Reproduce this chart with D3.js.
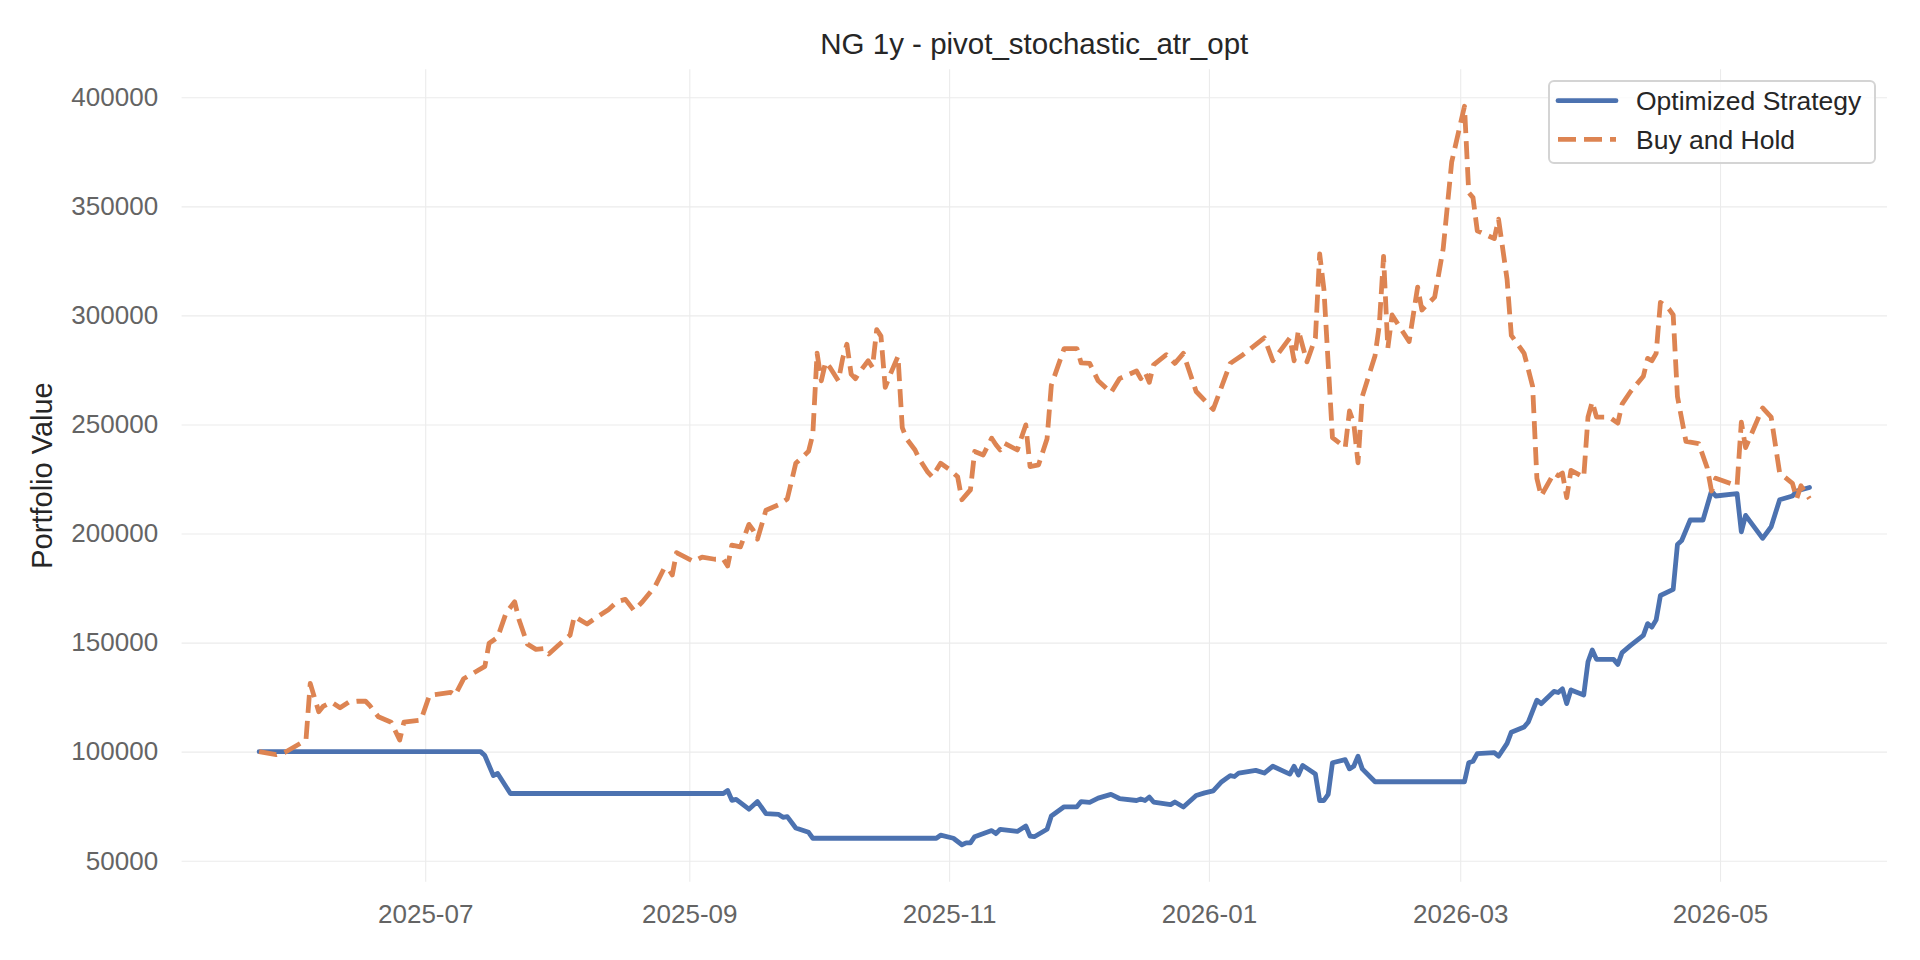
<!DOCTYPE html>
<html>
<head>
  <meta charset="utf-8">
  <title>NG 1y - pivot_stochastic_atr_opt</title>
  <style>
    body { margin: 0; background: #ffffff; }
    svg { font-family: "Liberation Sans", Arial, sans-serif; }
    .grid line { stroke: #ebebeb; stroke-width: 1.1; }
  </style>
</head>
<body>
  <script src="https://d3js.org/d3.v7.min.js"></script>
  <script>
    // chart data
    var seriesNames = ["Optimized Strategy", "Buy and Hold"];

    var stratDates = [
      "2025-05-23","2025-07-14","2025-07-15","2025-07-17","2025-07-18","2025-07-21","2025-09-09","2025-09-10",
      "2025-09-11","2025-09-12","2025-09-15","2025-09-17","2025-09-19","2025-09-22","2025-09-23","2025-09-24",
      "2025-09-26","2025-09-29","2025-09-30","2025-10-29","2025-10-30","2025-11-02","2025-11-04","2025-11-05",
      "2025-11-06","2025-11-07","2025-11-11","2025-11-12","2025-11-13","2025-11-17","2025-11-19","2025-11-20",
      "2025-11-21","2025-11-24","2025-11-25","2025-11-28","2025-12-01","2025-12-02","2025-12-04","2025-12-06",
      "2025-12-09","2025-12-11","2025-12-15","2025-12-16","2025-12-17","2025-12-18","2025-12-19","2025-12-23",
      "2025-12-24","2025-12-26","2025-12-29","2025-12-31","2026-01-02","2026-01-04","2026-01-06","2026-01-07",
      "2026-01-08","2026-01-12","2026-01-14","2026-01-16","2026-01-20","2026-01-21","2026-01-22","2026-01-23",
      "2026-01-26","2026-01-27","2026-01-28","2026-01-29","2026-01-30","2026-02-02","2026-02-03","2026-02-04",
      "2026-02-05","2026-02-06","2026-02-09","2026-03-02","2026-03-03","2026-03-04","2026-03-05","2026-03-09",
      "2026-03-10","2026-03-12","2026-03-13","2026-03-16","2026-03-17","2026-03-19","2026-03-20","2026-03-23",
      "2026-03-24","2026-03-25","2026-03-26","2026-03-27","2026-03-30","2026-03-31","2026-04-01","2026-04-02",
      "2026-04-06","2026-04-07","2026-04-08","2026-04-10","2026-04-13","2026-04-14","2026-04-15","2026-04-16",
      "2026-04-17","2026-04-20","2026-04-21","2026-04-22","2026-04-24","2026-04-27","2026-04-29","2026-04-30",
      "2026-05-05","2026-05-06","2026-05-07","2026-05-11","2026-05-13","2026-05-15","2026-05-18","2026-05-19",
      "2026-05-22"
    ];
    var stratValues = [
      100000,100000,98200,89000,90000,80800,80800,82200,
      77700,78100,73600,77100,71600,71200,69900,70200,
      65000,63000,60300,60300,61700,60300,57300,58200,
      58200,61000,63800,62400,64400,63400,65900,61300,
      61000,64400,70500,74700,74700,77100,76700,78700,
      80400,78500,77600,78300,77600,79200,76900,75700,
      76900,74600,79900,81100,82000,86200,89000,88600,
      90200,91400,90200,93300,89700,93300,89300,93700,
      89700,77600,77600,80400,94900,96300,92100,93300,
      97900,92100,86200,86200,94900,95600,99100,99500,
      97900,103800,108900,111300,113600,123600,122000,127600,
      127100,128800,122000,128300,126000,141200,146600,142300,
      142300,140000,145400,148700,153300,158700,157100,160400,
      171600,174400,195000,196800,206200,206200,219500,217200,
      218300,200800,208300,197800,203100,215500,217200,219500,
      221100
    ];

    var bhDates = [
      "2025-05-23","2025-05-27","2025-05-29","2025-06-03","2025-06-04","2025-06-06","2025-06-07","2025-06-09",
      "2025-06-11","2025-06-13","2025-06-15","2025-06-17","2025-06-18","2025-06-20","2025-06-23","2025-06-25",
      "2025-06-26","2025-06-30","2025-07-02","2025-07-07","2025-07-08","2025-07-10","2025-07-15","2025-07-16",
      "2025-07-18","2025-07-20","2025-07-22","2025-07-23","2025-07-25","2025-07-27","2025-07-29","2025-07-30",
      "2025-08-01","2025-08-04","2025-08-05","2025-08-08","2025-08-10","2025-08-13","2025-08-15","2025-08-17",
      "2025-08-19","2025-08-21","2025-08-24","2025-08-26","2025-08-27","2025-08-28","2025-08-29","2025-09-02",
      "2025-09-04","2025-09-07","2025-09-09","2025-09-10","2025-09-11","2025-09-13","2025-09-15","2025-09-16",
      "2025-09-17","2025-09-19","2025-09-22","2025-09-24","2025-09-26","2025-09-29","2025-09-30","2025-10-01",
      "2025-10-02","2025-10-03","2025-10-04","2025-10-06","2025-10-07","2025-10-08","2025-10-09","2025-10-10",
      "2025-10-11","2025-10-13","2025-10-14","2025-10-15","2025-10-16","2025-10-17","2025-10-18","2025-10-20",
      "2025-10-21","2025-10-22","2025-10-24","2025-10-25","2025-10-27","2025-10-28","2025-10-30","2025-11-01",
      "2025-11-03","2025-11-04","2025-11-06","2025-11-07","2025-11-09","2025-11-11","2025-11-12","2025-11-13",
      "2025-11-14","2025-11-17","2025-11-19","2025-11-20","2025-11-22","2025-11-24","2025-11-25","2025-11-28",
      "2025-12-01","2025-12-02","2025-12-04","2025-12-06","2025-12-09","2025-12-11","2025-12-15","2025-12-16",
      "2025-12-17","2025-12-18","2025-12-19","2025-12-22","2025-12-24","2025-12-26","2025-12-29","2026-01-02",
      "2026-01-06","2026-01-09","2026-01-14","2026-01-16","2026-01-20","2026-01-21","2026-01-22","2026-01-24",
      "2026-01-26","2026-01-27","2026-01-28","2026-01-30","2026-02-02","2026-02-03","2026-02-04","2026-02-05",
      "2026-02-06","2026-02-09","2026-02-10","2026-02-11","2026-02-12","2026-02-13","2026-02-17","2026-02-19",
      "2026-02-20","2026-02-23","2026-02-25","2026-02-27","2026-03-02","2026-03-03","2026-03-04","2026-03-05",
      "2026-03-09","2026-03-10","2026-03-12","2026-03-13","2026-03-16","2026-03-18","2026-03-19","2026-03-20",
      "2026-03-23","2026-03-24","2026-03-25","2026-03-26","2026-03-27","2026-03-30","2026-03-31","2026-04-01",
      "2026-04-02","2026-04-05","2026-04-07","2026-04-08","2026-04-10","2026-04-13","2026-04-14","2026-04-15",
      "2026-04-16","2026-04-17","2026-04-19","2026-04-20","2026-04-21","2026-04-23","2026-04-26","2026-04-28",
      "2026-04-29","2026-04-30","2026-05-05","2026-05-06","2026-05-07","2026-05-11","2026-05-13","2026-05-15",
      "2026-05-18","2026-05-19","2026-05-20","2026-05-22"
    ];
    var bhValues = [
      100000,98600,99600,105300,131300,118300,120700,122700,
      120100,122700,123100,123100,121100,116000,113500,105300,
      113500,114500,125800,127200,125800,133400,139100,149700,
      152400,163700,168700,160600,149300,146900,147300,144800,
      148300,153400,162000,158500,161200,165100,168700,169800,
      164700,168700,175900,183700,184100,181000,191200,187200,
      189200,188200,188200,185100,194700,193900,204200,201500,
      197400,210700,213200,215800,232200,237700,245500,282700,
      270000,278600,276200,270000,280200,286800,273100,271000,
      274100,279200,276200,293500,290500,267000,272100,281300,
      248500,243500,238300,234200,228100,226000,232200,229500,
      226000,215500,220000,237600,236000,243700,240700,238300,
      241400,238300,249800,230700,231500,243500,268000,284800,
      284800,278200,278000,270000,264600,271000,274500,271000,
      274000,269300,277300,282000,278000,282600,265100,256900,
      278000,282000,289700,279200,289700,279200,293200,278700,
      289700,328200,311900,244000,239400,256200,250600,232400,
      262800,281500,295500,327100,285000,300200,288000,313000,
      302500,308400,330600,370400,395900,356300,354000,338800,
      335200,344100,316500,290800,282600,267500,225300,217200,
      227700,226500,227700,216500,228900,225800,253400,260400,
      253400,253400,250600,259300,265100,272100,280300,279200,
      282600,306000,303000,300200,262800,242200,241200,230000,
      219500,225300,221900,251100,239400,257600,253400,227700,
      223000,216000,221900,216000
    ];

    var xTickDates = ["2025-07-01","2025-09-01","2025-11-01","2026-01-01","2026-03-01","2026-05-01"];
    var yTickValues = [50000,100000,150000,200000,250000,300000,350000,400000];

    // page / plot area
    var width = 1920, height = 960;
    var plot = {left: 181.6, right: 1887, top: 69.3, bottom: 881.7};
    var colors = ["#4c72b0", "#dd8452"];

    var parseDate = d3.timeParse("%Y-%m-%d");

    var strat = stratDates.map(function (d, i) { return {date: parseDate(d), value: stratValues[i]}; });
    var bh = bhDates.map(function (d, i) { return {date: parseDate(d), value: bhValues[i]}; });
    var allPoints = strat.concat(bh);

    // matplotlib style 5% padding on both axes
    var xExt = d3.extent(allPoints, function (d) { return d.date; });
    var xPad = (xExt[1] - xExt[0]) * 0.05;
    var yExt = d3.extent(allPoints, function (d) { return d.value; });
    var yPad = (yExt[1] - yExt[0]) * 0.05;

    var xScale = d3.scaleTime()
      .domain([new Date(+xExt[0] - xPad), new Date(+xExt[1] + xPad)])
      .range([plot.left, plot.right]);
    var yScale = d3.scaleLinear()
      .domain([yExt[0] - yPad, yExt[1] + yPad])
      .range([plot.bottom, plot.top]);

    var svg = d3.select("body").append("svg")
      .attr("width", width)
      .attr("height", height);

    // y grid + labels
    svg.append("g")
      .attr("class", "grid")
      .attr("transform", "translate(" + plot.left + ",0)")
      .call(d3.axisLeft(yScale)
        .tickValues(yTickValues)
        .tickFormat(d3.format("d"))
        .tickSize(-(plot.right - plot.left))
        .tickPadding(23.5))
      .call(function (g) { g.select(".domain").remove(); });

    // x grid + labels
    svg.append("g")
      .attr("class", "grid")
      .attr("transform", "translate(0," + plot.bottom + ")")
      .call(d3.axisBottom(xScale)
        .tickValues(xTickDates.map(parseDate))
        .tickFormat(d3.timeFormat("%Y-%m"))
        .tickSize(-(plot.bottom - plot.top))
        .tickPadding(23))
      .call(function (g) { g.select(".domain").remove(); });

    svg.selectAll(".grid .tick text")
      .attr("font-family", "Liberation Sans, Arial, sans-serif")
      .style("font-size", "26px")
      .attr("fill", "#646464");

    // lines
    var line = d3.line()
      .x(function (d) { return xScale(d.date); })
      .y(function (d) { return yScale(d.value); });

    svg.append("path")
      .datum(strat)
      .attr("fill", "none")
      .attr("stroke", colors[0])
      .attr("stroke-width", 4.8)
      .attr("stroke-linejoin", "round")
      .attr("stroke-linecap", "round")
      .attr("d", line);

    svg.append("path")
      .datum(bh)
      .attr("fill", "none")
      .attr("stroke", colors[1])
      .attr("stroke-width", 4.8)
      .attr("stroke-linejoin", "round")
      .attr("stroke-dasharray", "18,8")
      .attr("d", line);

    // title + y label
    svg.append("text")
      .attr("x", (plot.left + plot.right) / 2)
      .attr("y", 54)
      .attr("text-anchor", "middle")
      .attr("fill", "#262626")
      .style("font-size", "29.5px")
      .text("NG 1y - pivot_stochastic_atr_opt");

    svg.append("text")
      .attr("transform", "translate(52," + (plot.top + plot.bottom) / 2 + ")rotate(-90)")
      .attr("text-anchor", "middle")
      .attr("fill", "#262626")
      .style("font-size", "29px")
      .text("Portfolio Value");

    // legend
    var legend = svg.append("g").attr("id", "legend");
    legend.append("rect")
      .attr("x", 1549).attr("y", 81)
      .attr("width", 326).attr("height", 82)
      .attr("rx", 5)
      .attr("fill", "#ffffff").attr("fill-opacity", 0.8)
      .attr("stroke", "#d4d4d4").attr("stroke-width", 2);

    seriesNames.forEach(function (name, i) {
      var rowY = 100.7 + i * 38.6;
      legend.append("line")
        .attr("x1", 1558).attr("x2", 1616)
        .attr("y1", rowY).attr("y2", rowY)
        .attr("stroke", colors[i])
        .attr("stroke-width", 4.8)
        .attr("stroke-linecap", i == 0 ? "round" : "butt")
        .attr("stroke-dasharray", i == 0 ? null : "18,8");
      legend.append("text")
        .attr("x", 1636)
        .attr("y", rowY + 9.5)
        .attr("fill", "#262626")
        .style("font-size", "26.5px")
        .text(name);
    });
  </script>
</body>
</html>
